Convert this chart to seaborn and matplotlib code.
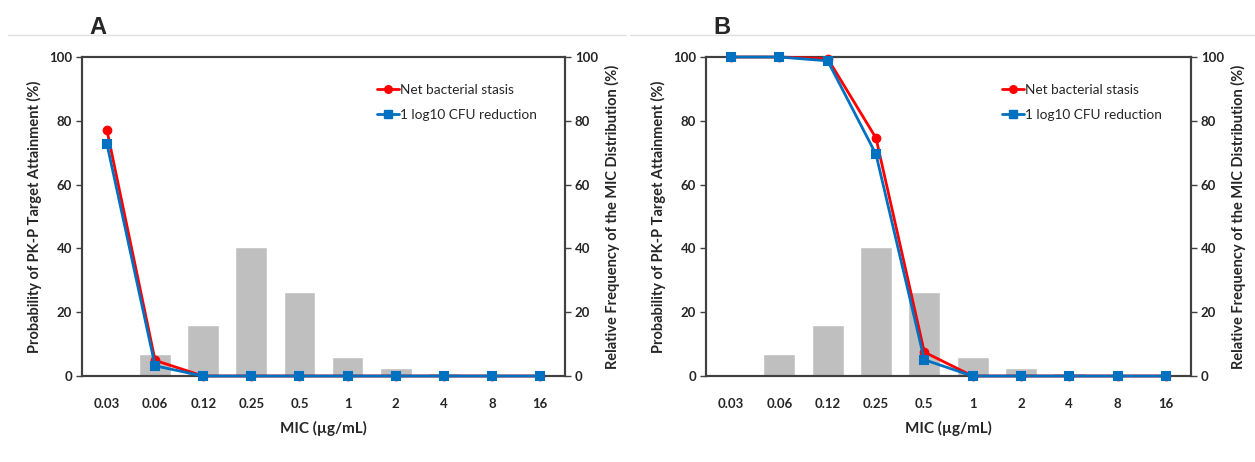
import numpy as np
import pandas as pd
import matplotlib
matplotlib.use("Agg")
import matplotlib.pyplot as plt
from matplotlib.lines import Line2D
import seaborn as sns

mic_labels = ["0.03", "0.06", "0.12", "0.25", "0.5", "1", "2", "4", "8", "16"]
mic_freq = [0.0, 6.8, 15.9, 40.6, 26.3, 6.0, 2.6, 1.0, 0.0, 0.0]

a_stasis = [77.0, 4.9, 0.0, 0.0, 0.0, 0.0, 0.0, 0.0, 0.0, 0.0]
a_log1 = [72.7, 3.2, 0.0, 0.0, 0.0, 0.0, 0.0, 0.0, 0.0, 0.0]
b_stasis = [100.0, 100.0, 99.5, 74.6, 7.5, 0.0, 0.0, 0.0, 0.0, 0.0]
b_log1 = [100.0, 100.0, 98.8, 69.5, 5.1, 0.0, 0.0, 0.0, 0.0, 0.0]

series_names = ["Net bacterial stasis", "1 log10 CFU reduction"]
panel_letters = ["A", "B"]

sns.set_theme(style="white")
plt.rcParams["font.family"] = ["Lato", "DejaVu Sans"]

RED = "#FF0000"
BLUE = "#0070C0"
GREY = "#BFBFBF"
SPINE = "#404040"

fig = plt.figure(figsize=(12.55, 4.62), dpi=100)
positions = [(0.0653, 0.1861, 0.3849, 0.6905), (0.5625, 0.1861, 0.3865, 0.6905)]
panels = [(a_stasis, a_log1), (b_stasis, b_log1)]

for (pos, (st, lg), letter) in zip(positions, panels, panel_letters):
    ax = fig.add_axes(pos)
    bars = pd.DataFrame({"MIC": mic_labels, "freq": mic_freq})
    sns.barplot(data=bars, x="MIC", y="freq", order=mic_labels, color=GREY,
                saturation=1, width=0.66, ax=ax, zorder=1)
    ax2 = ax.twinx()
    df = pd.DataFrame({
        "MIC": mic_labels * 2,
        "val": st + lg,
        "series": [series_names[0]] * len(mic_labels) + [series_names[1]] * len(mic_labels),
    })
    sns.pointplot(data=df, x="MIC", y="val", hue="series", order=mic_labels,
                  hue_order=series_names, palette=[RED, BLUE], markers=["o", "s"],
                  linestyles=["-", "-"], errorbar=None, dodge=False,
                  markersize=5.5, linewidth=2, ax=ax2, legend=False)
    for art in ax2.lines + ax2.collections:
        art.set_clip_on(False)
        art.set_zorder(5)
    for a in (ax, ax2):
        a.set_ylim(0, 100)
        a.set_xlim(-0.52, 9.52)
        a.set_yticks([0, 20, 40, 60, 80, 100])
        for s in a.spines.values():
            s.set_color(SPINE)
            s.set_linewidth(1.5)
    ax.set_xlabel("MIC (µg/mL)", fontsize=11, fontweight="bold", labelpad=8)
    ax.set_ylabel("Probability of PK-P Target Attainment (%)", fontsize=10.5,
                  fontweight="bold", labelpad=5)
    ax2.set_ylabel("Relative Frequency of the MIC Distribution (%)", fontsize=10.5,
                   fontweight="bold", labelpad=5)
    ax2.set_xlabel("")
    ax.tick_params(axis="y", which="both", left=True, length=4, width=1,
                   color=SPINE, labelsize=9.5, pad=3)
    ax2.tick_params(axis="y", which="both", right=True, length=4, width=1,
                    color=SPINE, labelsize=9.5, pad=3)
    ax.tick_params(axis="x", bottom=False, labelsize=9.5, pad=10)
    for t in ax.get_yticklabels() + ax2.get_yticklabels() + ax.get_xticklabels():
        t.set_fontweight("bold")
    handles = [Line2D([], [], color=RED, marker="o", markersize=5.5, linewidth=2),
               Line2D([], [], color=BLUE, marker="s", markersize=5.5, linewidth=2)]
    ax2.legend(handles, series_names, loc="upper left", bbox_to_anchor=(0.585, 0.955),
               frameon=False, fontsize=9.8, handlelength=1.6, handletextpad=0.1,
               labelspacing=0.95)
    x0 = pos[0]
    fig.text(x0 + 0.006, 0.94, letter, fontsize=17, fontweight="bold",
             ha="left", va="center", family=["Liberation Sans", "DejaVu Sans"])

fig.add_artist(Line2D([0.006, 0.499], [0.924, 0.924], color="#E0E0E0", linewidth=1))
fig.add_artist(Line2D([0.502, 1.0], [0.924, 0.924], color="#E0E0E0", linewidth=1))

fig.savefig("out.png", dpi=100, facecolor="white")
